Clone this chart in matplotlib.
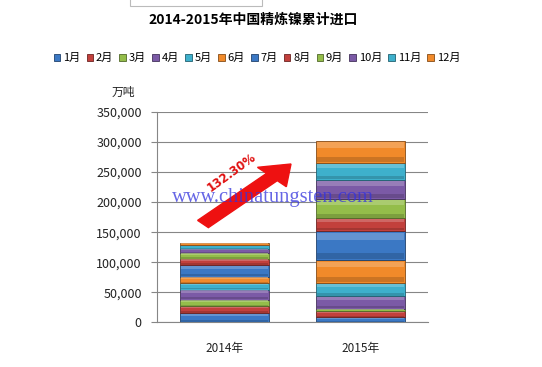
import matplotlib
matplotlib.use("Agg")
import matplotlib.pyplot as plt
import matplotlib.colors as mcolors
import numpy as np

plt.rcParams['font.family'] = ['Noto Sans CJK SC', 'DejaVu Sans']

years = ["2014年", "2015年"]
months = ["1月", "2月", "3月", "4月", "5月", "6月", "7月", "8月", "9月", "10月", "11月", "12月"]
# monthly imports, tonnes
imp_2014 = [15500, 11000, 11000, 16700, 11000, 11000, 19500, 10000, 9500, 7200, 5600, 3900]
imp_2015 = [8500, 10000, 4000, 21000, 22500, 37500, 48500, 21000, 32000, 32500, 28000, 37000]
yticks = [0, 50000, 100000, 150000, 200000, 250000, 300000, 350000]
growth_label = "132.30%"

palette = ["#3b78c4", "#c2403c", "#94bd4a", "#7b5aa6", "#3eb0cc", "#f18a2a"]
colors = [palette[i % 6] for i in range(12)]


def shade(c, f):
    r, g, b = mcolors.to_rgb(c)
    if f < 1:
        return (r * f, g * f, b * f)
    return (r + (1 - r) * (f - 1), g + (1 - g) * (f - 1), b + (1 - b) * (f - 1))


fig = plt.figure(figsize=(5.42, 3.67), dpi=100)
ax = fig.add_axes([157 / 542, 1 - 322.3 / 367, 271 / 542, 210.3 / 367])

x = np.arange(len(years))
data = np.array([imp_2014, imp_2015])
bottom = np.zeros(len(years))
w = 0.66
handles = []
for i, m in enumerate(months):
    vals = data[:, i]
    h = ax.bar(x, vals, w, bottom=bottom, color=colors[i], edgecolor=shade(colors[i], 0.55),
               linewidth=0.6, label=m, zorder=3)
    # bevel: light band near the top, darker band at the bottom
    ax.bar(x, vals * 0.25, w * 0.97, bottom=bottom + vals * 0.68, color=shade(colors[i], 1.3),
           linewidth=0, zorder=4, alpha=0.7)
    ax.bar(x, vals * 0.2, w * 0.97, bottom=bottom + vals * 0.04, color=shade(colors[i], 0.78),
           linewidth=0, zorder=4, alpha=0.7)
    handles.append(h)
    bottom += vals

ax.set_xlim(-0.5, 1.5)
ax.set_ylim(0, 350000)
ax.set_yticks(yticks)
ax.set_yticklabels([f"{v:,}" for v in yticks], fontsize=9, color="#222222")
ax.set_xticks(x)
ax.set_xticklabels(years, fontsize=8.5, color="#222222")
ax.tick_params(axis="x", length=0, pad=14)
ax.tick_params(axis="y", length=4, direction="out", color="#868686", pad=7)
ax.grid(axis="y", color="#868686", linewidth=0.8, zorder=0)
for s in ["top", "right"]:
    ax.spines[s].set_visible(False)
for s in ["left", "bottom"]:
    ax.spines[s].set_color("#868686")

fig.text(123 / 542, 1 - 92 / 367, "万吨", fontsize=8.5, ha="center", va="center", color="#222222")
fig.text(253 / 542, 1 - 20 / 367, "2014-2015年中国精炼镍累计进口", fontsize=10,
         fontweight="bold", ha="center", va="center")

fig.legend(handles, months, loc="center", bbox_to_anchor=(257 / 542, 1 - 58 / 367), ncol=12,
           frameon=False, fontsize=8, handlelength=0.6, handleheight=0.6, handletextpad=0.25,
           columnspacing=0.55, borderaxespad=0)

# small box at the top edge
fig.patches.append(plt.Rectangle((130 / 542, 1 - 6 / 367), 132 / 542, 0.03, transform=fig.transFigure,
                                 facecolor="white", edgecolor="#bbbbbb", linewidth=0.8))

# growth arrow annotation
fig.patches.append(matplotlib.patches.FancyArrow(
    203 / 542, 1 - 224 / 367, 88 / 542, 60 / 367, width=0.028, head_width=0.075, head_length=0.05,
    transform=fig.transFigure, color="#ee1111", length_includes_head=True, zorder=5))
fig.text(232 / 542, 1 - 172 / 367, growth_label, fontsize=8.5, fontweight="bold", color="#e01010",
         rotation=36, ha="center", va="center", family="DejaVu Sans")

# watermark
fig.text(273 / 542, 1 - 197 / 367, "www.chinatungsten.com", fontsize=14.8, color="#3333dd",
         alpha=0.75, ha="center", va="center", family="Liberation Serif", zorder=10)

fig.savefig("out.png", dpi=100)
